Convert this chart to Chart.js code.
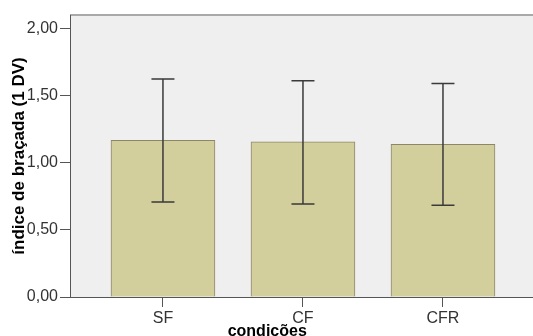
<!DOCTYPE html>
<html>
<head>
<meta charset="utf-8">
<script src="https://cdn.jsdelivr.net/npm/chart.js@4"></script>
<style>
  html, body { margin: 0; padding: 0; background: #ffffff; }
  #wrap { width: 533px; height: 336px; position: relative; }
</style>
</head>
<body>
<div id="wrap"><canvas id="chart"></canvas></div>
<script>
const categories = ["SF", "CF", "CFR"];
const means = [1.168, 1.157, 1.140];
const upperBounds = [1.627, 1.614, 1.592];
const lowerBounds = [0.709, 0.694, 0.684];
const yTicks = [0, 0.5, 1, 1.5, 2];

const xTitle = "condições";
const yTitle = "índice de braçada (1 DV)";

const plotBackground = {
  id: "plotBackground",
  beforeDraw(chart) {
    const { ctx, chartArea: a } = chart;
    ctx.save();
    ctx.fillStyle = "#efefef";
    ctx.fillRect(a.left, a.top, a.right - a.left, a.bottom - a.top);
    ctx.strokeStyle = "#a9a9a9";
    ctx.lineWidth = 2;
    ctx.beginPath();
    ctx.moveTo(a.left, a.top);
    ctx.lineTo(a.right, a.top);
    ctx.stroke();
    ctx.restore();
  }
};

const errorBars = {
  id: "errorBars",
  afterDatasetsDraw(chart) {
    const { ctx, scales } = chart;
    ctx.save();
    ctx.strokeStyle = "#3a3a3a";
    ctx.lineWidth = 1.5;
    categories.forEach((c, i) => {
      const x = scales.x.getPixelForValue(i + 1);
      const yHi = scales.y.getPixelForValue(upperBounds[i]);
      const yLo = scales.y.getPixelForValue(lowerBounds[i]);
      ctx.beginPath();
      ctx.moveTo(x, yHi);
      ctx.lineTo(x, yLo);
      ctx.moveTo(x - 11.5, yHi);
      ctx.lineTo(x + 11.5, yHi);
      ctx.moveTo(x - 11.5, yLo);
      ctx.lineTo(x + 11.5, yLo);
      ctx.stroke();
    });
    ctx.restore();
  }
};

const axisTitles = {
  id: "axisTitles",
  afterDraw(chart) {
    const { ctx, chartArea: a } = chart;
    ctx.save();
    ctx.fillStyle = "#000000";
    ctx.font = "bold 16px 'Liberation Sans', Arial, sans-serif";
    ctx.textAlign = "center";
    ctx.textBaseline = "middle";
    ctx.fillText(xTitle, a.left + (a.right - a.left) * 0.426, 332);
    ctx.translate(19, (a.top + a.bottom) / 2);
    ctx.rotate(-Math.PI / 2);
    ctx.font = "bold 17px 'Liberation Sans', Arial, sans-serif";
    ctx.fillText(yTitle, 0, 0);
    ctx.restore();
  }
};

new Chart(document.querySelector("#chart"), {
  type: "bar",
  data: {
    datasets: [
      {
        data: categories.map((c, i) => ({ x: i + 1, y: means[i] })),
        backgroundColor: "#d3cf9c",
        borderColor: "#8c876a",
        borderWidth: 1,
        barThickness: 104
      }
    ]
  },
  options: {
    responsive: true,
    maintainAspectRatio: false,
    animation: false,
    devicePixelRatio: 1,
    layout: { padding: { top: 15, right: 0, left: 0, bottom: 0 } },
    plugins: {
      legend: { display: false },
      tooltip: { enabled: false }
    },
    scales: {
      x: {
        type: "linear",
        offset: false,
        min: 0.336,
        max: 3.643,
        afterBuildTicks: (s) => { s.ticks = categories.map((c, i) => ({ value: i + 1 })); },
        afterFit: (s) => { s.height = 39; },
        ticks: {
          autoSkip: false,
          maxRotation: 0,
          padding: 2,
          color: "#333333",
          font: { family: "'Liberation Sans', Arial, sans-serif", size: 16 },
          callback: (v) => categories[v - 1]
        },
        grid: { offset: false, drawOnChartArea: false, drawTicks: true, tickLength: 10, color: "#555555" },
        border: { display: true, color: "#555555", width: 1 }
      },
      y: {
        min: 0,
        max: 2.104,
        afterBuildTicks: (s) => { s.ticks = yTicks.map((v) => ({ value: v })); },
        afterFit: (s) => { s.width = 70; },
        ticks: {
          padding: 2,
          color: "#333333",
          font: { family: "'Liberation Sans', Arial, sans-serif", size: 16 },
          callback: (v) => v.toFixed(2).replace(".", ",")
        },
        grid: { drawOnChartArea: false, drawTicks: true, tickLength: 10, color: "#555555" },
        border: { display: true, color: "#555555", width: 1 }
      }
    }
  },
  plugins: [plotBackground, errorBars, axisTitles]
});
</script>
</body>
</html>
